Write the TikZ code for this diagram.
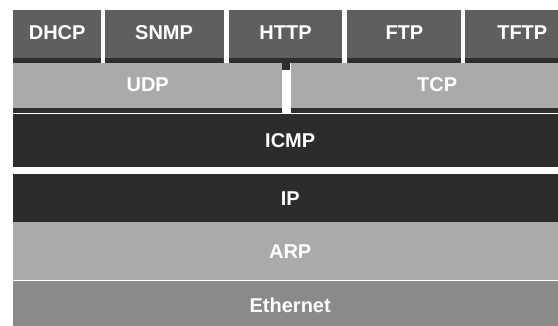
\documentclass[tikz,border=0pt]{standalone}
\usepackage{fontspec}
\setmainfont{Liberation Sans}
\usetikzlibrary{positioning}
\definecolor{appgray}{HTML}{5F5F5F}
\definecolor{edgegray}{HTML}{2E2E2E}
\definecolor{palegray}{HTML}{AAAAAA}
\definecolor{netdark}{HTML}{2C2C2C}
\definecolor{ethgray}{HTML}{8A8A8A}

\begin{document}
\begin{tikzpicture}[x=1pt,y=1pt,node distance=3pt]
\tikzstyle{box}=[inner sep=0pt,anchor=north west,text=white,
  font=\bfseries\fontsize{20}{24}\selectfont,text height=14.3pt,text depth=0pt]
\tikzstyle{shadowed}=[box,text depth=8pt,
  path picture={\fill[edgegray] (path picture bounding box.south west)
    rectangle ([yshift=5pt]path picture bounding box.south east);}]
\tikzstyle{appbox}=[shadowed,fill=appgray,minimum height=53pt]
\tikzstyle{transbox}=[shadowed,fill=palegray,minimum height=50pt]
\tikzstyle{netbox}=[box,minimum width=554pt]
\clip (0,0) rectangle (558,-326);
% application protocols
\node [appbox,minimum width=88pt] (dhcp) at (13,-10) {DHCP};
\node [appbox,minimum width=119pt,right=3pt of dhcp] (snmp) {SNMP};
\node [appbox,minimum width=113pt,right=5pt of snmp] (http) {HTTP};
\node [appbox,minimum width=114pt,right=5pt of http] (ftp) {FTP};
\node [appbox,minimum width=115pt,right=3pt of ftp] (tftp) {TFTP};
% transport
\node [transbox,minimum width=269pt] (udp) at (13,-63) {UDP};
\node [transbox,minimum width=293pt,right=8pt of udp] (tcp) {TCP};
\fill[edgegray] (udp.north east) rectangle ([yshift=-7pt]tcp.north west);
% lower layers
\node [netbox,fill=netdark,minimum height=53pt] (icmp) at (udp.south west) {ICMP};
\node [netbox,fill=netdark,minimum height=48pt,below=7pt of icmp] (ip) {IP};
\node [netbox,fill=palegray,minimum height=58pt,below=0pt of ip] (arp) {ARP};
\node [netbox,fill=ethgray,minimum height=50pt,below=0pt of arp] (eth) {Ethernet};
\end{tikzpicture}
\end{document}
